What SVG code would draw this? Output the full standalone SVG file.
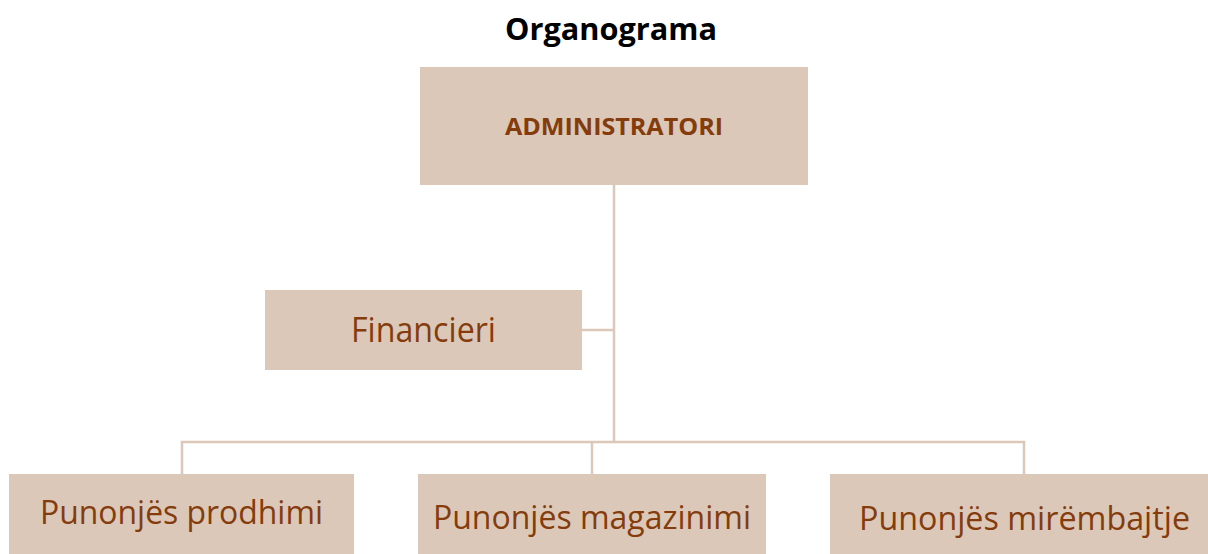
<svg xmlns="http://www.w3.org/2000/svg" width="1208" height="554" viewBox="0 0 1208 554">
<style>
.box{fill:#dcc8b9}
.lbl{font-family:"Open Sans","Liberation Sans",sans-serif;fill:#843c0c;text-anchor:start}
.conn{stroke:#dcc8b9;stroke-width:2.5;fill:none}
</style>
<rect width="1208" height="554" fill="#ffffff"/>
<text x="505" y="40" font-family="'Open Sans','Liberation Sans',sans-serif" font-weight="bold" font-size="31" fill="#000000" textLength="212" lengthAdjust="spacingAndGlyphs">Organograma</text>
<g id="connectors">
<path class="conn" d="M614,185 V442"/>
<path class="conn" d="M582,330 H614"/>
<path class="conn" d="M182,474 V442 H1024 V474"/>
<path class="conn" d="M592,442 V474"/>
</g>
<g id="administratori">
<rect class="box" x="420" y="67" width="388" height="118"/>
<text class="lbl" x="505" y="135" font-size="24" font-weight="bold" textLength="218" lengthAdjust="spacingAndGlyphs">ADMINISTRATORI</text>
</g>
<g id="financieri">
<rect class="box" x="265" y="290" width="317" height="80"/>
<text class="lbl" x="351" y="342" font-size="34" textLength="145" lengthAdjust="spacingAndGlyphs">Financieri</text>
</g>
<g id="prodhimi">
<rect class="box" x="9" y="474" width="345" height="80"/>
<text class="lbl" x="40" y="524" font-size="32" textLength="283" lengthAdjust="spacingAndGlyphs">Punonjës prodhimi</text>
</g>
<g id="magazinimi">
<rect class="box" x="418" y="474" width="348" height="80"/>
<text class="lbl" x="433" y="529" font-size="32" textLength="318" lengthAdjust="spacingAndGlyphs">Punonjës magazinimi</text>
</g>
<g id="mirembajtje">
<rect class="box" x="830" y="474" width="378" height="80"/>
<text class="lbl" x="859" y="530" font-size="32" textLength="331" lengthAdjust="spacingAndGlyphs">Punonjës mirëmbajtje</text>
</g>
</svg>
